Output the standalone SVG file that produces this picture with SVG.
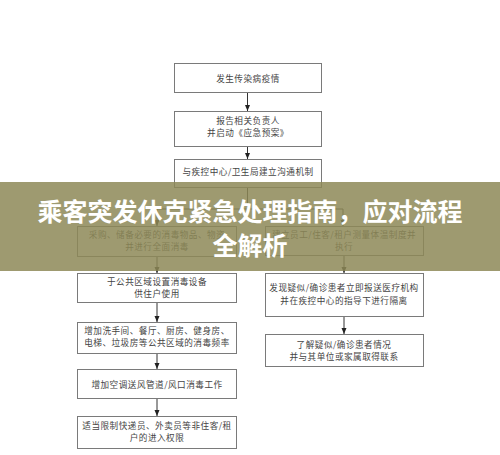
<svg xmlns="http://www.w3.org/2000/svg" width="500" height="455" viewBox="0 0 500 455">
<style>
.box{fill:#fff;stroke:#7a7a7a;stroke-width:1}
.t{font-family:"Noto Sans CJK SC","Noto Sans CJK TC",sans-serif;font-size:8.6px;letter-spacing:0.5px;fill:#444;text-anchor:middle}
.ln{stroke:#333;stroke-width:1;fill:none}
.title{font-family:"Noto Sans CJK SC","Noto Sans CJK TC",sans-serif;font-size:25px;font-weight:bold;fill:#fff;text-anchor:middle}
</style>
<defs>
<marker id="ah" viewBox="0 0 6 6" refX="6" refY="3" markerWidth="6" markerHeight="6" markerUnits="userSpaceOnUse" orient="auto">
<path d="M0,0.5 L6,3 L0,5.5 Z" fill="#222"/>
</marker>
</defs>
<rect width="500" height="455" fill="#fff"/>
<g id="connectors">
<line class="ln" x1="247.5" y1="93" x2="247.5" y2="111" marker-end="url(#ah)"/>
<line class="ln" x1="247.5" y1="147" x2="247.5" y2="159" marker-end="url(#ah)"/>
<polyline class="ln" points="247.5,188 247.5,209"/>
<polyline class="ln" points="157,209 343,209"/>
<line class="ln" x1="157" y1="209" x2="157" y2="226" marker-end="url(#ah)"/>
<line class="ln" x1="343" y1="209" x2="343" y2="226" marker-end="url(#ah)"/>
<line class="ln" x1="157" y1="257" x2="157" y2="273" marker-end="url(#ah)"/>
<line class="ln" x1="157" y1="303" x2="157" y2="322" marker-end="url(#ah)"/>
<line class="ln" x1="157" y1="354" x2="157" y2="369" marker-end="url(#ah)"/>
<line class="ln" x1="157" y1="399" x2="157" y2="416" marker-end="url(#ah)"/>
<line class="ln" x1="344" y1="256" x2="344" y2="273" marker-end="url(#ah)"/>
<line class="ln" x1="344" y1="317" x2="344" y2="334" marker-end="url(#ah)"/>
</g>
<g id="n1"><rect class="box" x="174.5" y="63.5" width="147" height="29"/><text class="t" x="248" y="81.5">发生传染病疫情</text></g>
<g id="n2"><rect class="box" x="174.5" y="111.5" width="147" height="35"/><text class="t" x="248" y="123.5">报告相关负责人</text><text class="t" x="248" y="136">并启动《应急预案》</text></g>
<g id="n3"><rect class="box" x="174.5" y="159.5" width="147" height="28"/><text class="t" x="248" y="175">与疾控中心/卫生局建立沟通机制</text></g>
<g id="n4"><rect class="box" x="77.5" y="226.5" width="159" height="30"/><text class="t" x="157" y="237.5">采购、储备必要的消毒物品、物资</text><text class="t" x="157" y="250">并进行全面消毒</text></g>
<g id="n5"><rect class="box" x="265.5" y="226.5" width="158" height="29"/><text class="t" x="344" y="237.5">建立员工/住客/租户测量体温制度并</text><text class="t" x="344" y="250">执行</text></g>
<g id="n6"><rect class="box" x="77.5" y="273.5" width="159" height="29"/><text class="t" x="157" y="284.5">于公共区域设置消毒设备</text><text class="t" x="157" y="297">供住户使用</text></g>
<g id="n7"><rect class="box" x="77.5" y="322.5" width="159" height="31"/><text class="t" x="157" y="333.5">增加洗手间、餐厅、厨房、健身房、</text><text class="t" x="157" y="346">电梯、垃圾房等公共区域的消毒频率</text></g>
<g id="n8"><rect class="box" x="77.5" y="369.5" width="159" height="29"/><text class="t" x="157" y="387.5">增加空调送风管道/风口消毒工作</text></g>
<g id="n9"><rect class="box" x="77.5" y="416.5" width="159" height="32"/><text class="t" x="157" y="428.5">适当限制快递员、外卖员等非住客/租</text><text class="t" x="157" y="441">户的进入权限</text></g>
<g id="n10"><rect class="box" x="265.5" y="273.5" width="158" height="43"/><text class="t" x="344" y="291">发现疑似/确诊患者立即报送医疗机构</text><text class="t" x="344" y="303.5">并在疾控中心的指导下进行隔离</text></g>
<g id="n11"><rect class="box" x="265.5" y="334.5" width="158" height="32"/><text class="t" x="344" y="347.5">了解疑似/确诊患者情况</text><text class="t" x="344" y="360">并与其单位或家属取得联系</text></g>
<g id="banner">
<rect x="0" y="182" width="500" height="89" fill="#8d8857" fill-opacity="0.85"/>
<text class="title" x="250" y="221">乘客突发休克紧急处理指南，应对流程</text>
<text class="title" x="250" y="255">全解析</text>
</g>
</svg>
